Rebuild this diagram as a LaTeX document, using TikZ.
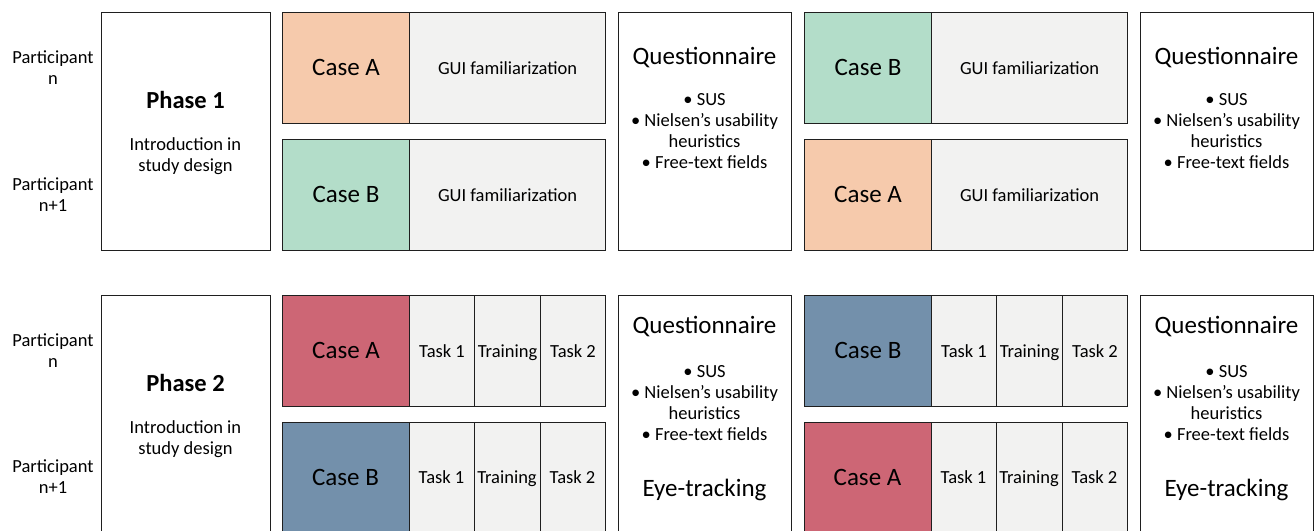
\documentclass[tikz,border=0pt]{standalone}
\usepackage{fontspec}
\setmainfont{Carlito}
\definecolor{peach}{HTML}{F6CAAC}
\definecolor{mint}{HTML}{B3DDC9}
\definecolor{rose}{HTML}{CD6675}
\definecolor{steel}{HTML}{7390AB}
\definecolor{pale}{HTML}{F2F2F1}
\definecolor{edge}{HTML}{1F1F1F}
\tikzset{
  box/.style={draw=edge, line width=1.1pt, anchor=north west, inner sep=0pt},
  casebox/.style={box, minimum width=127pt, minimum height=111pt},
  guibox/.style={box, fill=pale, minimum width=196pt, minimum height=111pt},
  taskbox/.style={box, fill=pale, minimum height=111pt},
  tallbox/.style={box, fill=white, minimum width=169pt, minimum height=238pt},
  qbox/.style={box, fill=white, minimum width=173pt, minimum height=238pt},
  small/.style={font=\fontsize{18.5}{21}\selectfont, align=center, inner sep=0pt, text=black},
  oneline/.style={font=\fontsize{18.5}{21}\selectfont, inner sep=0pt, text=black, text height=12.5pt, text depth=0pt},
  big/.style={font=\fontsize{25}{28}\selectfont, inner sep=0pt, text=black, text height=15pt, text depth=0pt},
  phase/.style={font=\fontsize{24.5}{27}\selectfont\bfseries, inner sep=0pt, text=black},
}
\begin{document}
\begin{tikzpicture}[x=1pt,y=-1pt]
\useasboundingbox (0,0) rectangle (1314,530);
\clip (0,0) rectangle (1314,530);
\fill[white] (0,0) rectangle (1314,530);

% ---------- Phase 1 ----------
\node[small] (p1n) at (53,67.5) {Participant\\n};
\node[small] (p1n1) at (53,194.5) {Participant\\n+1};

\node[tallbox] (ph1) at (101,12) {};
\node[phase] (ph1t) at (185.5,100) {Phase 1};
\node[small] (ph1d) at (185.5,156) {Introduction in\\study design};

\node[casebox, fill=peach] (a1) at (282,12) {};
\node[big] at (a1.center) {Case A};
\node[guibox] (g1) at (409,12) {};
\node[oneline] at (g1.center) {GUI familiarization};
\node[casebox, fill=mint] (b1) at (282,139) {};
\node[big] at (b1.center) {Case B};
\node[guibox] (g2) at (409,139) {};
\node[oneline] at (g2.center) {GUI familiarization};

\node[qbox] (q1) at (618,12) {};
\node[big] at (704.5,57) {Questionnaire};
\node[small] at (704.5,131) {• SUS\\• Nielsen’s usability\\heuristics\\• Free-text fields};

\node[casebox, fill=mint] (b2) at (804,12) {};
\node[big] at (b2.center) {Case B};
\node[guibox] (g3) at (931,12) {};
\node[oneline] at (g3.center) {GUI familiarization};
\node[casebox, fill=peach] (a2) at (804,139) {};
\node[big] at (a2.center) {Case A};
\node[guibox] (g4) at (931,139) {};
\node[oneline] at (g4.center) {GUI familiarization};

\node[qbox] (q2) at (1140,12) {};
\node[big] at (1226.5,57) {Questionnaire};
\node[small] at (1226.5,131) {• SUS\\• Nielsen’s usability\\heuristics\\• Free-text fields};

% ---------- Phase 2 ----------
\node[small] (p2n) at (53,350.5) {Participant\\n};
\node[small] (p2n1) at (53,476.5) {Participant\\n+1};

\node[tallbox, minimum height=270pt] (ph2) at (101,295) {};
\node[phase] (ph2t) at (185.5,383) {Phase 2};
\node[small] (ph2d) at (185.5,439) {Introduction in\\study design};

% left block
\node[casebox, fill=rose] (a3) at (282,295) {};
\node[big] at (a3.center) {Case A};
\node[taskbox, minimum width=65pt] (t31) at (409,295) {};
\node[oneline] at (t31.center) {Task 1};
\node[taskbox, minimum width=66pt] (t32) at (474,295) {};
\node[oneline] at (t32.center) {Training};
\node[taskbox, minimum width=65pt] (t33) at (540,295) {};
\node[oneline] at (t33.center) {Task 2};

\node[casebox, fill=steel, minimum height=140pt] (b3) at (282,422) {};
\node[big] at (345.5,477.5) {Case B};
\node[taskbox, minimum width=65pt, minimum height=140pt] (t41) at (409,422) {};
\node[oneline] at (441.5,477.5) {Task 1};
\node[taskbox, minimum width=66pt, minimum height=140pt] (t42) at (474,422) {};
\node[oneline] at (507,477.5) {Training};
\node[taskbox, minimum width=65pt, minimum height=140pt] (t43) at (540,422) {};
\node[oneline] at (572.5,477.5) {Task 2};

\node[qbox, minimum height=270pt] (q3) at (618,295) {};
\node[big] at (704.5,326) {Questionnaire};
\node[small] at (704.5,403) {• SUS\\• Nielsen’s usability\\heuristics\\• Free-text fields};
\node[big] at (704.5,489) {Eye-tracking};

% right block
\node[casebox, fill=steel] (b4) at (804,295) {};
\node[big] at (b4.center) {Case B};
\node[taskbox, minimum width=65pt] (t51) at (931,295) {};
\node[oneline] at (t51.center) {Task 1};
\node[taskbox, minimum width=66pt] (t52) at (996,295) {};
\node[oneline] at (t52.center) {Training};
\node[taskbox, minimum width=65pt] (t53) at (1062,295) {};
\node[oneline] at (t53.center) {Task 2};

\node[casebox, fill=rose, minimum height=140pt] (a4) at (804,422) {};
\node[big] at (867.5,477.5) {Case A};
\node[taskbox, minimum width=65pt, minimum height=140pt] (t61) at (931,422) {};
\node[oneline] at (963.5,477.5) {Task 1};
\node[taskbox, minimum width=66pt, minimum height=140pt] (t62) at (996,422) {};
\node[oneline] at (1029,477.5) {Training};
\node[taskbox, minimum width=65pt, minimum height=140pt] (t63) at (1062,422) {};
\node[oneline] at (1094.5,477.5) {Task 2};

\node[qbox, minimum height=270pt] (q4) at (1140,295) {};
\node[big] at (1226.5,326) {Questionnaire};
\node[small] at (1226.5,403) {• SUS\\• Nielsen’s usability\\heuristics\\• Free-text fields};
\node[big] at (1226.5,489) {Eye-tracking};
\end{tikzpicture}
\end{document}
